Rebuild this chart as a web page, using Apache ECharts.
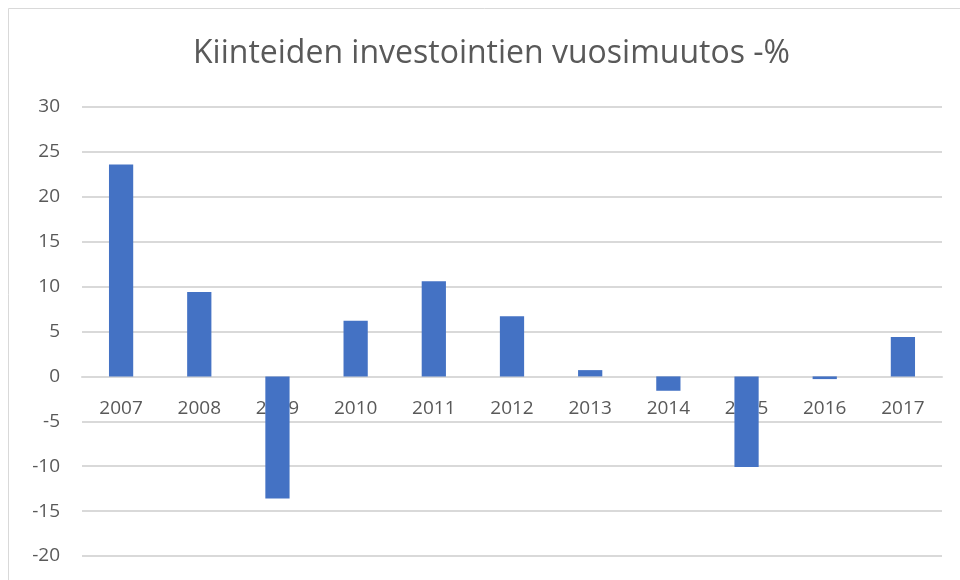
<!DOCTYPE html>
<html lang="fi">
<head>
    <meta charset="UTF-8">
    <title>Kiinteiden investointien vuosimuutos -%</title>
    <script src="https://cdn.jsdelivr.net/npm/echarts@6/dist/echarts.min.js"></script>
    <style>
        html, body { margin: 0; padding: 0; background: #fff; }
        #chart { width: 960px; height: 580px; }
    </style>
</head>
<body>
    <div id="chart"></div>
    <script>
        // data
        const years = ['2007', '2008', '2009', '2010', '2011', '2012', '2013', '2014', '2015', '2016', '2017'];
        const changes = [23.6, 9.4, -13.6, 6.2, 10.6, 6.7, 0.7, -1.6, -10.1, -0.3, 4.4];
        const titleText = 'Kiinteiden investointien vuosimuutos -%';

        const chart = echarts.init(document.getElementById('chart'));
        const fontFamily = '"Open Sans", "Noto Sans", sans-serif';

        // category axis sits at value 0: lift it from the bottom edge (0 is 20/50 of the height up)
        const gridTop = 107, gridBottom = 24;
        const plotHeight = 580 - gridTop - gridBottom;
        const zeroLift = plotHeight * 20 / 50;

        chart.setOption({
            animation: false,
            backgroundColor: '#fff',
            title: {
                text: titleText,
                left: 188,
                top: 33,
                textStyle: { fontFamily: fontFamily, fontSize: 32, fontWeight: 'normal', color: '#595959' }
            },
            graphic: [{
                type: 'rect',
                shape: { x: 8.5, y: 8.5, width: 960, height: 600 },
                style: { fill: 'none', stroke: '#d9d9d9', lineWidth: 1 },
                silent: true
            }],
            grid: { left: 82, right: 18, top: gridTop, bottom: gridBottom, containLabel: false, outerBoundsMode: 'none' },
            xAxis: {
                type: 'category',
                data: years,
                offset: -zeroLift,
                axisLine: { onZero: false, lineStyle: { color: '#d9d9d9', width: 2 } },
                axisTick: { show: false },
                axisLabel: { fontFamily: fontFamily, fontSize: 19, color: '#595959', margin: 23 }
            },
            yAxis: {
                type: 'value',
                min: -20,
                max: 30,
                interval: 5,
                axisLine: { show: false },
                axisTick: { show: false },
                splitLine: { lineStyle: { color: '#d9d9d9', width: 2 } },
                axisLabel: { fontFamily: fontFamily, fontSize: 19, color: '#595959', margin: 22 }
            },
            series: [{
                type: 'bar',
                data: changes,
                barWidth: '31%',
                itemStyle: { color: '#4472c4' }
            }]
        });
    </script>
</body>
</html>
